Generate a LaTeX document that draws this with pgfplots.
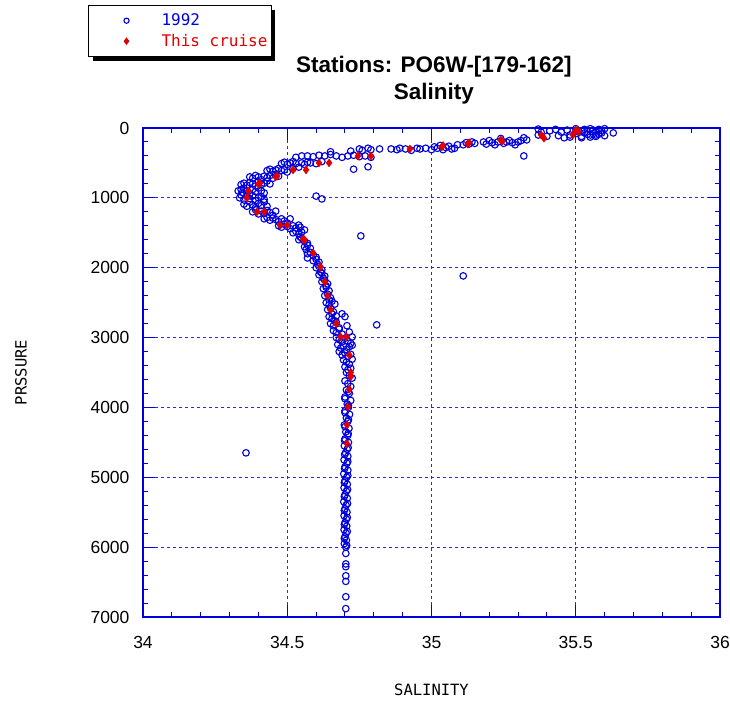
\documentclass[border=0pt]{standalone}
\usepackage{pgfplots}
\usepackage{pgfplotstable}
\pgfplotsset{compat=1.18}
\usepackage{fontspec}
\setmainfont{Liberation Sans}
\newfontfamily\monofont{DejaVu Sans Mono}
\usetikzlibrary{shadows}
\definecolor{mblue}{RGB}{0,0,220}
\definecolor{mred}{RGB}{225,0,0}
\definecolor{gblue}{RGB}{40,40,230}
\pgfplotsset{
  legimgA/.style={legend image code/.code={\pgfpathrectangle{\pgfpoint{-36pt}{-0.1pt}}{\pgfpoint{69pt}{0.2pt}}\pgfusepath{discard}\draw[##1, mark size=2.6pt] plot coordinates {(0pt,0pt)};}},
  legimgB/.style={legend image code/.code={\pgfpathrectangle{\pgfpoint{-36pt}{-0.1pt}}{\pgfpoint{69pt}{0.2pt}}\pgfusepath{discard}\draw[##1, mark size=3pt] plot coordinates {(0pt,0pt)};}},
}

\pgfplotstableread{
S P
35.43 20
35.45 60
35.47 30
35.48 100
35.50 10
35.50 80
35.51 40
35.52 120
35.53 20
35.53 70
35.54 50
35.55 10
35.55 100
35.56 30
35.56 80
35.57 60
35.57 120
35.58 20
35.58 90
35.59 40
35.59 70
35.60 10
35.60 110
35.55 130
35.52 140
35.48 130
35.46 140
35.63 70
35.37 15
35.37 100
35.38 60
35.40 120
35.41 40
35.44 110
35.50 50
35.54 90
35.57 100
35.18 200
35.19 230
35.20 180
35.21 210
35.22 240
35.23 200
35.24 150
35.25 220
35.26 200
35.27 180
35.28 210
35.29 240
35.30 200
35.31 180
35.32 140
35.33 170
35.32 400
35.12 210
35.13 230
35.14 200
35.15 220
35.11 240
34.96 300
34.98 290
35.00 310
35.01 270
35.02 290
35.03 250
35.04 310
35.05 280
35.06 260
35.07 300
35.08 290
35.09 240
34.75 300
34.76 320
34.78 290
34.79 310
34.82 300
34.86 300
34.88 310
34.89 290
34.91 300
34.93 320
34.95 290
34.53 420
34.55 400
34.57 400
34.59 410
34.61 390
34.63 400
34.65 380
34.67 400
34.69 420
34.71 400
34.73 390
34.75 410
34.77 400
34.79 420
34.65 340
34.72 330
34.48 510
34.49 490
34.50 520
34.51 500
34.52 480
34.53 510
34.55 500
34.56 520
34.57 490
34.58 500
34.60 510
34.62 480
34.73 590
34.78 555
34.43 610
34.44 590
34.45 620
34.46 600
34.47 580
34.48 610
34.49 600
34.50 630
34.52 580
34.54 560
34.37 700
34.38 720
34.39 680
34.40 700
34.41 740
34.42 690
34.43 710
34.44 680
34.45 720
34.46 660
34.47 690
34.34 810
34.35 790
34.36 820
34.37 780
34.38 800
34.39 830
34.40 770
34.41 810
34.42 790
34.43 760
34.44 800
34.33 900
34.34 880
34.345 920
34.35 860
34.36 900
34.37 940
34.38 880
34.39 910
34.40 860
34.41 900
34.42 930
34.335 1000
34.34 960
34.35 1030
34.36 980
34.37 1010
34.38 970
34.39 1040
34.40 1000
34.41 980
34.42 1020
34.60 975
34.62 1015
34.35 1090
34.36 1120
34.37 1060
34.38 1100
34.39 1140
34.40 1080
34.41 1110
34.42 1060
34.43 1120
34.38 1200
34.39 1170
34.40 1230
34.41 1190
34.42 1220
34.43 1180
34.44 1210
34.45 1250
34.46 1190
34.42 1300
34.43 1280
34.44 1320
34.45 1290
34.46 1310
34.47 1340
34.48 1300
34.49 1330
34.50 1360
34.51 1300
34.47 1400
34.48 1420
34.49 1380
34.50 1410
34.51 1440
34.52 1400
34.53 1430
34.54 1390
34.545 1420
34.52 1500
34.53 1480
34.54 1520
34.55 1490
34.56 1460
34.755 1545
34.54 1600
34.55 1580
34.56 1620
34.57 1650
34.545 1560
34.56 1700
34.57 1680
34.58 1720
34.565 1740
34.57 1800
34.58 1780
34.59 1820
34.60 1850
34.57 1860
34.59 1900
34.60 1880
34.61 1920
34.605 1950
34.60 2000
34.61 1980
34.62 2030
34.615 2060
34.61 2100
34.62 2080
34.63 2120
34.625 2150
35.11 2117
34.62 2200
34.63 2180
34.64 2230
34.635 2260
34.625 2300
34.635 2280
34.645 2330
34.63 2400
34.64 2380
34.65 2430
34.645 2460
34.635 2500
34.645 2530
34.655 2480
34.665 2520
34.64 2600
34.65 2580
34.66 2630
34.655 2660
34.69 2660
34.70 2700
34.645 2700
34.655 2730
34.665 2760
34.67 2690
34.65 2800
34.66 2830
34.67 2780
34.68 2860
34.707 2830
34.81 2818
34.66 2900
34.67 2930
34.68 2880
34.69 2950
34.715 2920
34.725 2990
34.67 3000
34.68 3030
34.69 3060
34.70 3010
34.71 3050
34.72 3080
34.675 3100
34.685 3150
34.695 3120
34.705 3170
34.715 3130
34.725 3110
34.68 3200
34.69 3250
34.70 3220
34.71 3270
34.72 3240
34.695 3320
34.705 3350
34.715 3380
34.725 3310
34.70 3420
34.71 3460
34.72 3440
34.705 3500
34.715 3540
34.725 3580
34.70 3620
34.71 3660
34.72 3700
34.705 3750
34.715 3800
34.700 3850
34.720 3900
34.708 3950
34.712 4000
34.700 4050
34.716 4100
34.705 4150
34.710 4200
34.698 4250
34.714 4300
34.703 4350
34.710 4400
34.700 4450
34.712 4500
34.698 4550
34.708 4600
34.702 4650
34.710 4700
34.697 4750
34.707 4800
34.700 4850
34.710 4900
34.696 4950
34.706 5000
34.700 5050
34.708 5100
34.697 5150
34.705 5200
34.700 5250
34.708 5300
34.696 5350
34.704 5400
34.700 5450
34.707 5500
34.697 5550
34.705 5600
34.700 5650
34.706 5700
34.697 5750
34.704 5800
34.700 5850
34.705 5900
34.698 5950
34.703 6000
34.712 3775
34.700 3875
34.712 3975
34.700 4075
34.712 4175
34.700 4275
34.711 4375
34.699 4475
34.711 4575
34.699 4675
34.710 4775
34.699 4875
34.710 4975
34.698 5075
34.709 5175
34.698 5275
34.709 5375
34.698 5475
34.708 5575
34.698 5675
34.708 5775
34.698 5875
34.706 5975
34.703 6090
34.703 6240
34.703 6280
34.703 6410
34.703 6490
34.703 6710
34.703 6880
34.357 4650
}\tblold

\pgfplotstableread{
S P
35.50 30
35.51 50
35.49 100
35.38 100
35.39 145
35.24 170
35.245 190
35.13 210
35.125 230
35.036 270
35.04 250
34.925 300
34.79 400
34.745 400
34.645 500
34.61 500
34.565 600
34.52 600
34.46 700
34.465 690
34.405 790
34.40 800
34.365 900
34.36 1000
34.395 1200
34.42 1200
34.475 1390
34.50 1390
34.555 1590
34.56 1600
34.59 1790
34.615 1990
34.63 2200
34.64 2400
34.65 2600
34.67 2800
34.685 2990
34.705 2990
34.715 3250
34.72 3500
34.72 3560
34.715 3740
34.71 3990
34.707 4250
34.707 4520
}\tblnew

\begin{document}
\begin{tikzpicture}
\useasboundingbox (0,0) rectangle (730pt,703pt);
\begin{axis}[
  at={(143pt,86pt)}, anchor=south west,
  scale only axis, width=577pt, height=489pt,
  xmin=34, xmax=36, ymin=0, ymax=7000,
  y dir=reverse,
  xtick={34,34.5,35,35.5,36},
  xticklabels={34,34.5,35,35.5,36},
  ytick={0,1000,2000,3000,4000,5000,6000,7000},
  minor x tick num=4, minor y tick num=4,
  tick align=inside,
  major tick length=12pt, minor tick length=5pt,
  axis line style={mblue, line width=1.4pt},
  every tick/.style={mblue, line width=1pt},
  xmajorgrids, ymajorgrids,
  major grid style={gblue, dash pattern=on 3pt off 3pt, line width=0.9pt},
  /pgf/number format/assume math mode=true,
  /pgf/number format/1000 sep={},
  tick label style={font=\fontsize{17.5}{20}\selectfont, black},
  yticklabel style={xshift=-10pt},
  xticklabel style={yshift=-16pt},
  xlabel={SALINITY}, ylabel={PRSSURE},
  every axis x label/.style={at={(axis description cs:0.5,-0.149)}, anchor=center, font=\monofont\fontsize{15.5}{18}\selectfont},
  every axis y label/.style={at={(axis description cs:-0.2114,0.5)}, rotate=90, anchor=center, font=\monofont\fontsize{15.5}{18}\selectfont},
  title={Stations: PO6W-[179-162]\\Salinity},
  title style={at={(axis description cs:0.504,1.085)}, anchor=center, align=center, font=\bfseries\fontsize{22.5}{27}\selectfont},
  legend style={at={(axis description cs:-0.0953,1.2515)}, anchor=north west,
    draw=black, line width=1pt, fill=white,
    drop shadow={shadow xshift=4pt, shadow yshift=-4pt, fill=black, opacity=1},
    font=\monofont\fontsize{16}{19}\selectfont,
    cells={anchor=west}, inner xsep=2pt, inner ysep=6.5pt, row sep=3pt},
  legend cell align=left,
]
\addplot[only marks, mark=o, mark size=3.3pt, mblue, mark options={line width=1.1pt}, legimgA] table[x=S,y=P] {\tblold};
\addlegendentry{\textcolor{mblue}{1992}}
\addplot[only marks, mark=diamond*, mark size=4pt, mred, mark options={fill=mred, draw=mred}, legimgB] table[x=S,y=P] {\tblnew};
\addlegendentry{\textcolor{mred}{This cruise}}
\end{axis}
\end{tikzpicture}
\end{document}
